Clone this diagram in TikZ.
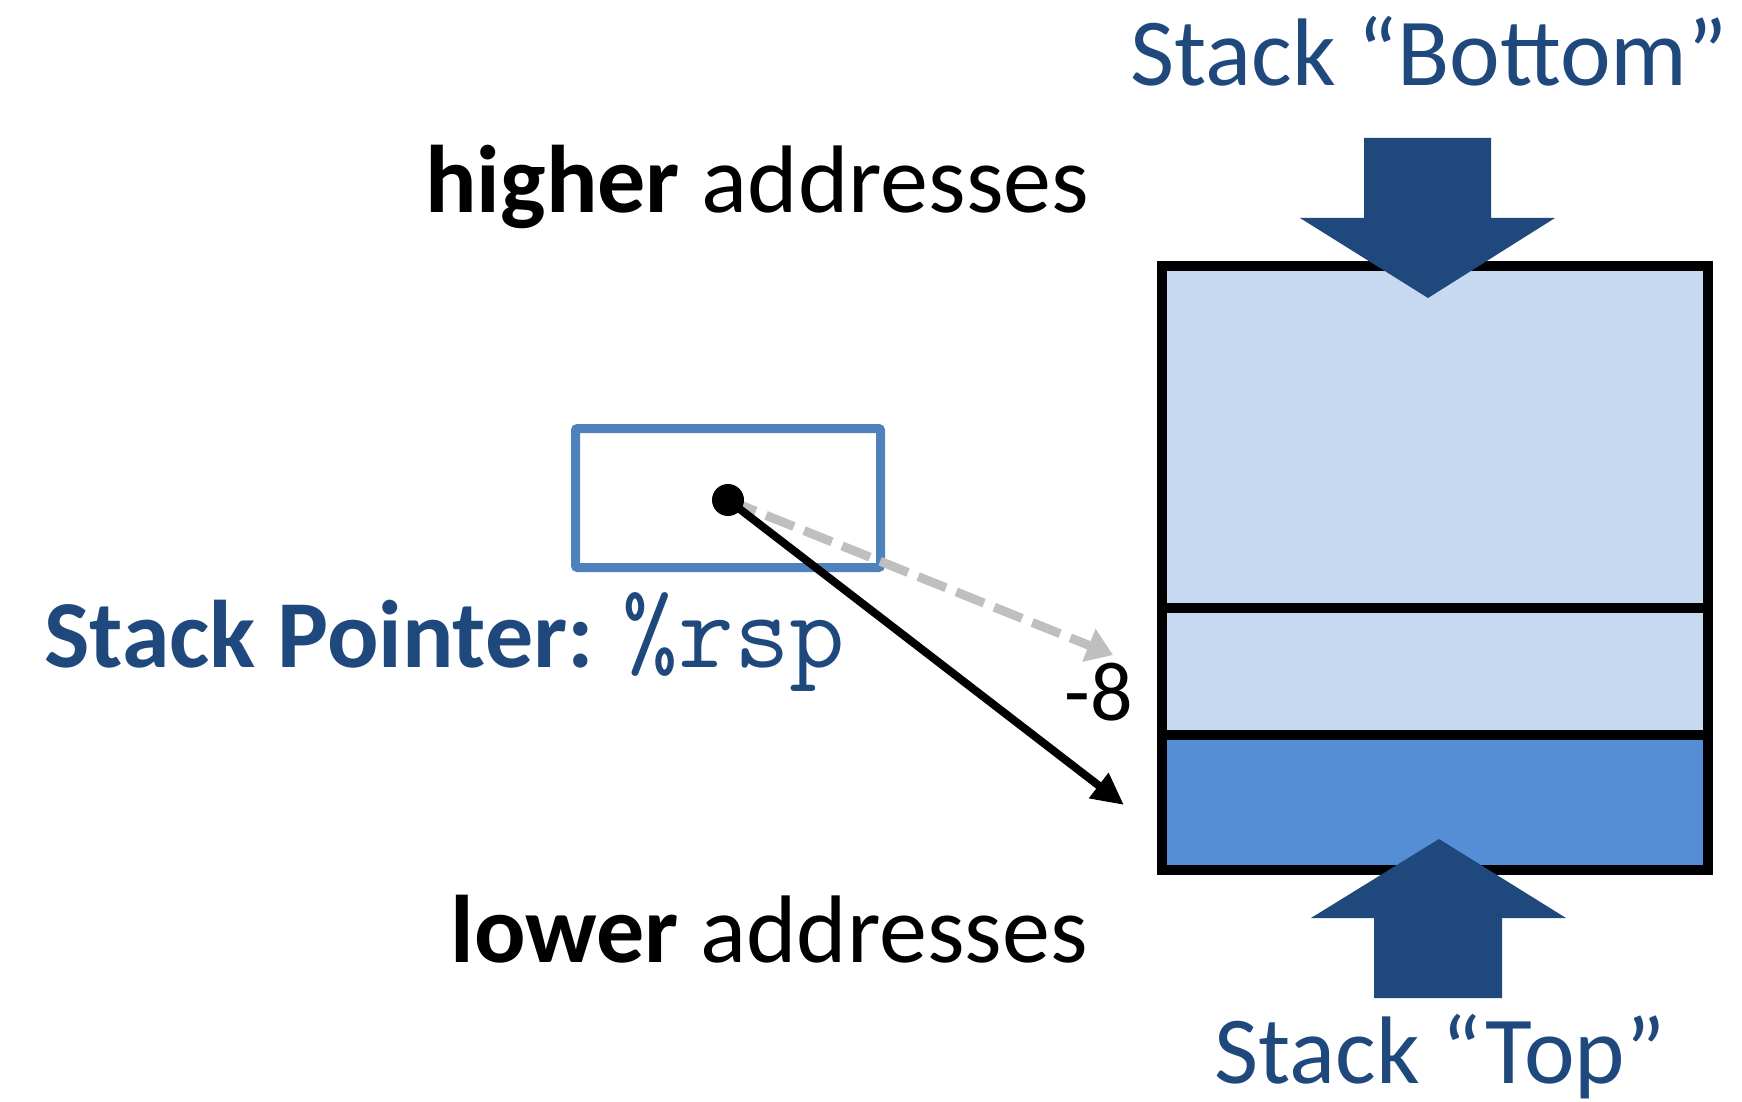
\documentclass[tikz,border=0pt]{standalone}
\usepackage{fontspec}
\setmainfont{Carlito}
\usetikzlibrary{arrows.meta}

\definecolor{darkblue}{HTML}{1F497D}
\definecolor{boxblue}{HTML}{4F81BD}
\definecolor{lightcell}{HTML}{C6D9F1}
\definecolor{topcell}{HTML}{558ED5}
\definecolor{ghost}{HTML}{BFBFBF}

\tikzset{
  lbl/.style={anchor=base west, inner sep=0pt, font=\fontsize{48}{50}\selectfont},
  cell/.style={draw=black, line width=5pt},
  bigarrow/.style={fill=darkblue},
}

\begin{document}
\begin{tikzpicture}[x=0.5pt, y=-0.5pt]
    \useasboundingbox (0,0) rectangle (1742,1102);

    % the stack
    \draw[cell, fill=lightcell] (1162,266) rectangle (1708,608);
    \draw[cell, fill=lightcell] (1162,608) rectangle (1708,735);
    \draw[cell, fill=topcell] (1162,735) rectangle (1708,870);

    \fill[bigarrow] (1364,138) -- (1491,138) -- (1491,218) -- (1555,218)
        -- (1428,298) -- (1300,218) -- (1364,218) -- cycle;
    \fill[bigarrow] (1374,998) -- (1502,998) -- (1502,918) -- (1566,918)
        -- (1439,839) -- (1311,918) -- (1374,918) -- cycle;

    \node[lbl, text=darkblue] (bottomlbl) at (1130,86) {Stack “Bottom”};
    \node[lbl, text=darkblue] (toplbl) at (1214,1083) {Stack “Top”};
    \node[lbl] (higherlbl) at (425,213) {\textbf{higher} addresses};
    \node[lbl] (lowerlbl) at (450,962) {\textbf{lower} addresses};

    % register
    \node[draw=boxblue, line width=4.5pt, rounded corners=1pt,
        minimum width=152.5pt, minimum height=69.5pt] (rspbox) at (728,498) {};
    \node[lbl, text=darkblue] (splbl) at (44,667)
        {\textbf{Stack Pointer:} {\fontsize{54}{56}\ttfamily\%rsp}};

    \coordinate (sp) at (728,500);
    \coordinate (oldtop) at (1113,655);
    \coordinate (newtop) at (1124,805);
    \draw[ghost, line width=4.5pt, dash pattern=on 15pt off 5.5pt,
        -{Triangle[length=13pt, width=17pt]}] (sp) -- (oldtop);
    \draw[line width=4pt, -{Triangle[length=16pt, width=15pt]}] (sp) -- (newtop);
    \node[circle, fill=black, inner sep=0pt, minimum size=16pt] (dot) at (sp) {};

    \node[lbl, font=\fontsize{42}{44}\selectfont] (offset) at (1064,720) {-8};
\end{tikzpicture}
\end{document}
